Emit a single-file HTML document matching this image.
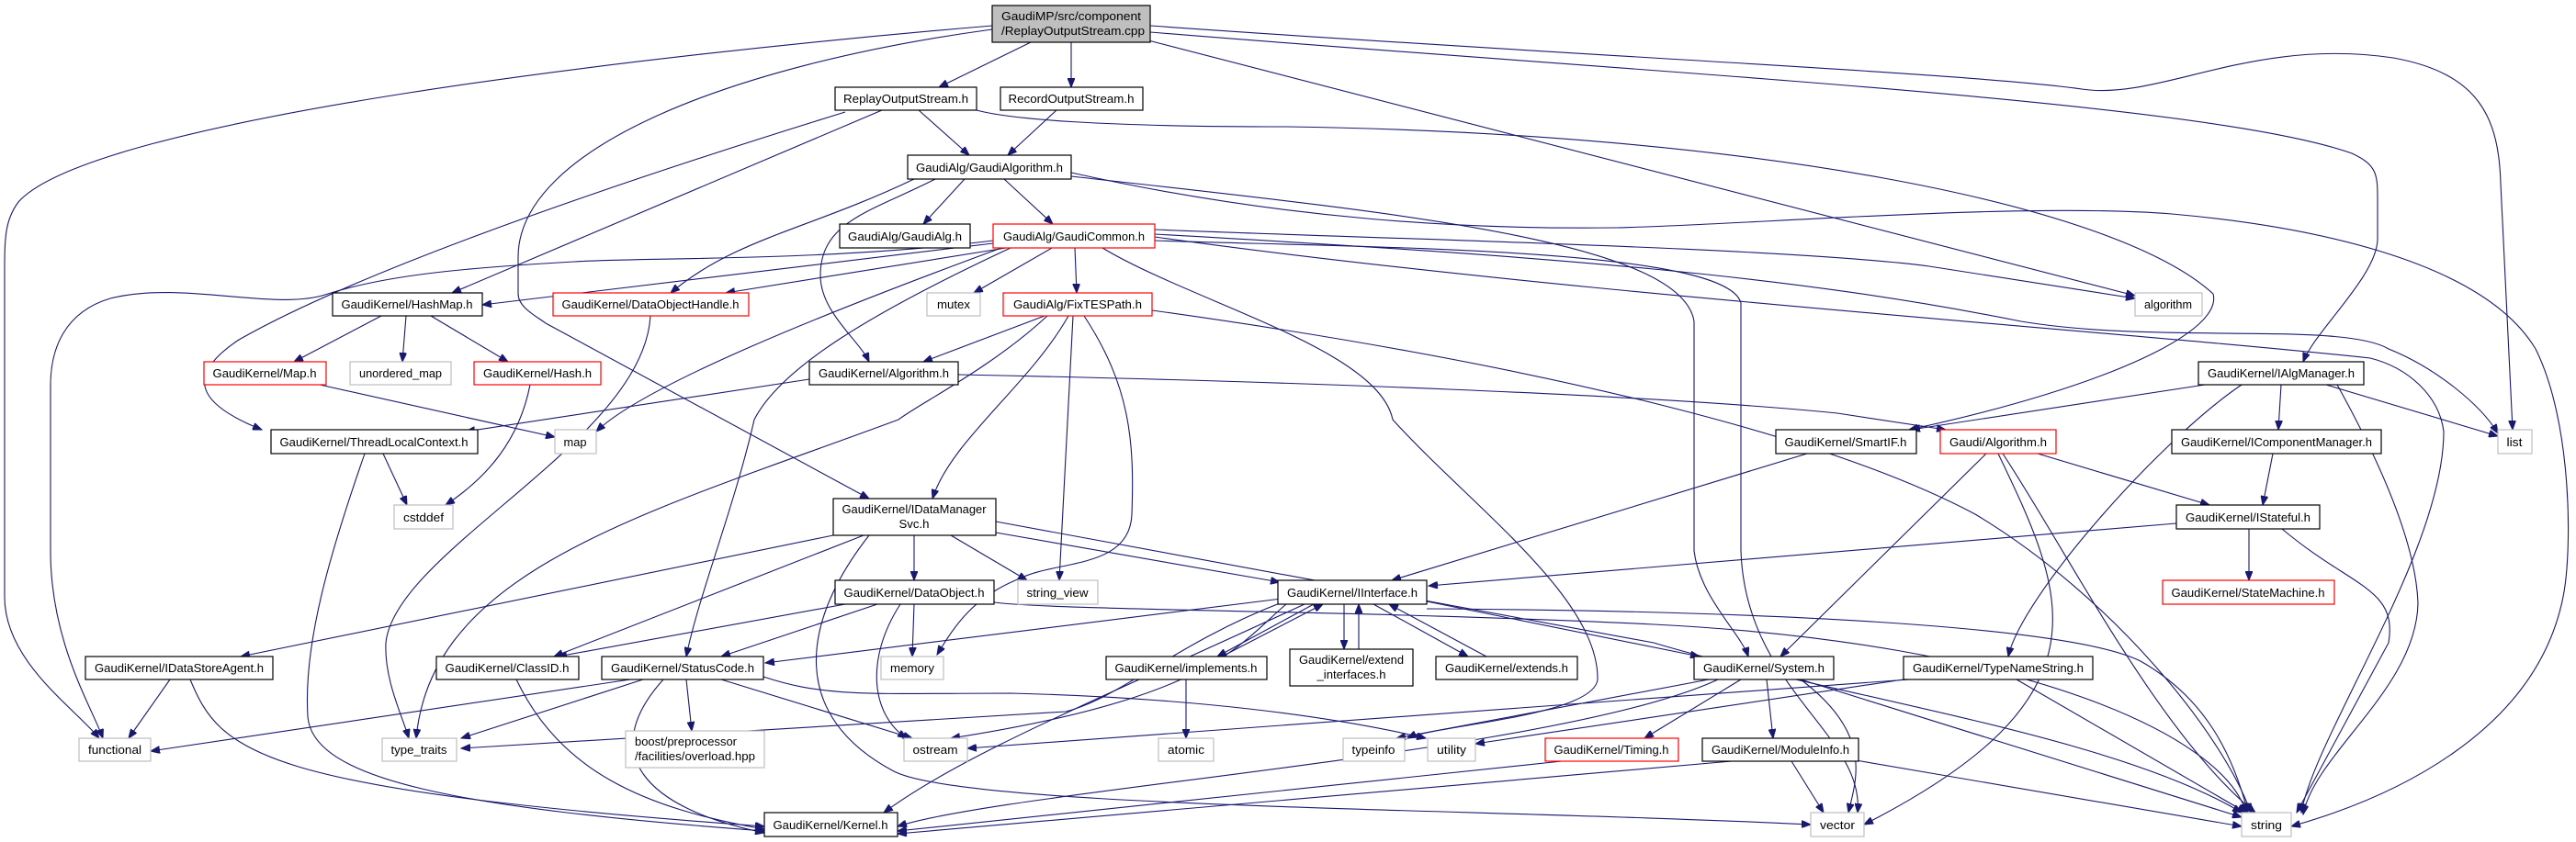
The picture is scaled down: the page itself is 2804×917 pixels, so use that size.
<!DOCTYPE html>
<html><head><meta charset="utf-8"><style>
html,body{margin:0;padding:0;background:#fff;}
svg{display:block;}
text{font-family:"Liberation Sans",sans-serif;font-size:13px;fill:#000;}
.e{fill:none;stroke:#191970;stroke-width:1.1;marker-end:url(#a);}
.n{fill:#fff;stroke:#000;stroke-width:1.2;}
.g{fill:#fff;stroke:#bfbfbf;stroke-width:1.2;}
.r{fill:#fff;stroke:#ff0000;stroke-width:1.2;}
</style></head><body>
<svg width="2804" height="917" viewBox="0 0 2804 917" xmlns="http://www.w3.org/2000/svg">
<defs><marker id="a" markerUnits="userSpaceOnUse" markerWidth="11" markerHeight="8" refX="10" refY="4" orient="auto"><path d="M0,0 L10,4 L0,8 z" fill="#191970" stroke="#191970"/></marker></defs>
<g>
<path class="e" d="M1122,46 L1022,95"/>
<path class="e" d="M1166,46 L1166,95"/>
<path class="e" d="M1080,28 C700,60 100,130 20,220 C5,240 5,260 5,300 L5,650 C5,720 80,770 108,804"/>
<path class="e" d="M1080,32 C800,70 564,160 564,280 L564,320 C564,335 585,345 594,352 L946,543"/>
<path class="e" d="M1250,44 L2324,322"/>
<path class="e" d="M1252,35 C1800,80 2400,110 2560,167 C2588,180 2588,190 2588,220 L2588,260 C2588,300 2520,360 2507,394"/>
<path class="e" d="M1252,28 C1700,60 2150,80 2266,97 C2350,110 2450,40 2605,63 C2700,80 2720,130 2722,200 L2735,468"/>
<path class="e" d="M1000,120 L1055,169"/>
<path class="e" d="M1150,120 L1097,169"/>
<path class="e" d="M960,120 L492,319"/>
<path class="e" d="M920,122 C700,190 400,290 260,370 C200,410 215,440 285,468"/>
<path class="e" d="M1063,120 C1100,130 1200,138 1400,138 C1900,145 2300,220 2409,320 C2420,360 2300,420 2078,468"/>
<path class="e" d="M1050,195 L1005,244"/>
<path class="e" d="M1093,195 L1146,244"/>
<path class="e" d="M995,195 C880,250 800,260 730,319"/>
<path class="e" d="M1018,195 C950,230 893,240 893,300 C893,340 935,370 946,394"/>
<path class="e" d="M1166,188 C1400,240 1600,250 1760,248 C1900,245 2200,220 2364,233 C2500,245 2700,280 2760,380 C2800,460 2800,600 2790,650 C2760,800 2600,870 2494,900"/>
<path class="e" d="M1166,192 C1500,230 1830,260 1844,350 L1844,600 C1850,650 1895,690 1903,715"/>
<path class="e" d="M1257,262 C1500,270 1880,270 1895,330 L1895,600 C1900,750 2030,800 2022,885"/>
<path class="e" d="M1081,265 L525,332"/>
<path class="e" d="M1095,270 L790,319"/>
<path class="e" d="M1145,270 L1060,319"/>
<path class="e" d="M1170,270 L1172,319"/>
<path class="e" d="M1081,262 C900,285 700,280 625,285 C500,292 420,300 357,320 C300,340 200,305 120,325 C70,340 55,380 55,420 L55,600 C55,700 100,770 112,804"/>
<path class="e" d="M1090,270 C900,340 700,420 649,470"/>
<path class="e" d="M1100,270 C950,340 850,400 821,457 C800,550 760,650 747,715"/>
<path class="e" d="M1257,250 C1500,260 1950,270 2100,290 C2200,305 2280,318 2324,325"/>
<path class="e" d="M1257,255 C1700,280 1950,300 2200,350 C2350,375 2550,350 2600,380 C2650,400 2700,440 2719,472"/>
<path class="e" d="M1257,258 C1700,320 2300,360 2580,390 C2620,400 2655,430 2660,470 C2660,600 2520,800 2505,885"/>
<path class="e" d="M1200,270 C1300,330 1500,380 1516,457 C1600,550 1740,650 1739,740 C1735,780 1560,790 1532,804"/>
<path class="e" d="M415,344 L320,394"/>
<path class="e" d="M442,344 L438,394"/>
<path class="e" d="M469,344 L553,394"/>
<path class="e" d="M348,419 L604,476"/>
<path class="e" d="M577,419 C565,480 530,520 485,550"/>
<path class="e" d="M881,413 L507,470"/>
<path class="e" d="M1043,408 C1400,415 1800,430 2000,450 L2118,468"/>
<path class="e" d="M708,344 C700,480 430,600 420,700 C418,740 438,780 445,804"/>
<path class="e" d="M1140,344 C1080,400 1000,440 978,457 C700,560 470,620 453,804"/>
<path class="e" d="M1137,344 L1005,394"/>
<path class="e" d="M1163,344 C1120,420 1035,480 1015,543"/>
<path class="e" d="M1168,344 L1153,632"/>
<path class="e" d="M1180,344 C1230,420 1235,480 1232,560 C1230,620 1150,610 1110,630 C1060,650 1040,680 1020,713"/>
<path class="e" d="M1254,338 C1700,400 2000,480 2150,560 C2300,650 2420,800 2450,885"/>
<path class="e" d="M417,494 L443,550"/>
<path class="e" d="M397,494 C360,600 330,700 335,780 C340,850 500,880 832,905"/>
<path class="e" d="M907,583 L262,715"/>
<path class="e" d="M940,583 L603,715"/>
<path class="e" d="M995,583 L995,632"/>
<path class="e" d="M1035,583 L1118,632"/>
<path class="e" d="M1084,580 L1393,634"/>
<path class="e" d="M1084,568 L1800,700 C2000,760 2300,800 2440,885"/>
<path class="e" d="M946,583 C870,680 860,780 973,840 C1050,880 1600,880 1971,898"/>
<path class="e" d="M920,658 L607,715"/>
<path class="e" d="M955,658 L785,715"/>
<path class="e" d="M995,658 L993,715"/>
<path class="e" d="M980,658 C940,720 950,780 987,804"/>
<path class="e" d="M1082,656 C1150,665 1500,665 1800,680 C2200,700 2420,800 2445,885"/>
<path class="e" d="M185,740 L140,804"/>
<path class="e" d="M207,740 C240,820 280,860 832,900"/>
<path class="e" d="M562,740 C610,840 700,880 832,903"/>
<path class="e" d="M686,740 L164,818"/>
<path class="e" d="M700,740 L502,804"/>
<path class="e" d="M747,740 L753,796"/>
<path class="e" d="M785,740 L993,804"/>
<path class="e" d="M722,740 C650,820 700,880 832,907"/>
<path class="e" d="M831,737 C900,760 950,755 1100,755 C1300,760 1450,780 1552,804"/>
<path class="e" d="M1395,652 L833,722"/>
<path class="e" d="M1400,658 C1350,700 1320,760 1035,804"/>
<path class="e" d="M1398,655 C1280,700 1220,760 1160,775 L502,815"/>
<path class="e" d="M1420,658 C1200,760 1050,820 962,885"/>
<path class="e" d="M1553,655 L1850,715"/>
<path class="e" d="M1553,663 C1900,665 2250,680 2330,720 C2400,760 2430,820 2447,885"/>
<path class="e" d="M1463,658 L1463,707"/>
<path class="e" d="M1479,707 L1479,658"/>
<path class="e" d="M1618,715 L1512,658"/>
<path class="e" d="M1495,658 L1598,715"/>
<path class="e" d="M1330,715 L1440,658"/>
<path class="e" d="M1430,658 L1325,715"/>
<path class="e" d="M1291,740 L1291,804"/>
<path class="e" d="M1967,494 L1515,632"/>
<path class="e" d="M2162,494 L1938,715"/>
<path class="e" d="M2218,494 L2405,550"/>
<path class="e" d="M2180,494 C2250,600 2350,800 2455,885"/>
<path class="e" d="M2175,494 C2250,650 2300,760 2029,898"/>
<path class="e" d="M2400,419 L2080,468"/>
<path class="e" d="M2483,419 L2480,468"/>
<path class="e" d="M2532,419 L2719,475"/>
<path class="e" d="M2544,419 C2600,520 2630,600 2632,657 C2630,750 2520,820 2507,887"/>
<path class="e" d="M2440,419 C2350,480 2200,650 2186,715"/>
<path class="e" d="M2474,494 L2463,550"/>
<path class="e" d="M2369,570 L1555,638"/>
<path class="e" d="M2448,576 L2448,632"/>
<path class="e" d="M2484,576 C2560,640 2610,640 2600,700 L2500,885"/>
<path class="e" d="M1860,740 L1520,804"/>
<path class="e" d="M1895,740 L1790,804"/>
<path class="e" d="M1923,740 L1930,804"/>
<path class="e" d="M1960,740 C2040,800 2020,850 2012,885"/>
<path class="e" d="M1960,740 L2440,890"/>
<path class="e" d="M1870,740 C1700,820 1100,860 977,900"/>
<path class="e" d="M2078,740 L1053,815"/>
<path class="e" d="M2072,740 L1606,810"/>
<path class="e" d="M2195,740 L2445,885"/>
<path class="e" d="M1700,829 L977,905"/>
<path class="e" d="M1885,829 L977,908"/>
<path class="e" d="M1950,829 L1985,885"/>
<path class="e" d="M2020,828 L2440,900"/>
</g>
<g>
<rect x="1080" y="6" width="172" height="40" fill="#bfbfbf" stroke="#000" stroke-width="1.2"/>
<text x="1090" y="22" textLength="152" lengthAdjust="spacingAndGlyphs">GaudiMP/src/component</text>
<text x="1090" y="38" textLength="156" lengthAdjust="spacingAndGlyphs">/ReplayOutputStream.cpp</text>

<rect class="n" x="909" y="95" width="154" height="25"/><text x="986" y="112" text-anchor="middle" textLength="136" lengthAdjust="spacingAndGlyphs">ReplayOutputStream.h</text>
<rect class="n" x="1089" y="95" width="155" height="25"/><text x="1166" y="112" text-anchor="middle" textLength="137" lengthAdjust="spacingAndGlyphs">RecordOutputStream.h</text>
<rect class="n" x="988" y="169" width="178" height="26"/><text x="1077" y="187" text-anchor="middle" textLength="160" lengthAdjust="spacingAndGlyphs">GaudiAlg/GaudiAlgorithm.h</text>
<rect class="n" x="914" y="244" width="142" height="26"/><text x="985" y="262" text-anchor="middle" textLength="124" lengthAdjust="spacingAndGlyphs">GaudiAlg/GaudiAlg.h</text>
<rect class="r" x="1081" y="244" width="176" height="26"/><text x="1169" y="262" text-anchor="middle" textLength="154" lengthAdjust="spacingAndGlyphs">GaudiAlg/GaudiCommon.h</text>
<rect class="n" x="362" y="319" width="163" height="25"/><text x="443" y="336" text-anchor="middle" textLength="143" lengthAdjust="spacingAndGlyphs">GaudiKernel/HashMap.h</text>
<rect class="r" x="602" y="319" width="213" height="25"/><text x="708" y="336" text-anchor="middle" textLength="193" lengthAdjust="spacingAndGlyphs">GaudiKernel/DataObjectHandle.h</text>
<rect class="g" x="1009" y="319" width="58" height="25"/><text x="1038" y="336" text-anchor="middle" textLength="36" lengthAdjust="spacingAndGlyphs">mutex</text>
<rect class="r" x="1092" y="319" width="162" height="25"/><text x="1173" y="336" text-anchor="middle" textLength="140" lengthAdjust="spacingAndGlyphs">GaudiAlg/FixTESPath.h</text>
<rect class="g" x="2324" y="319" width="73" height="25"/><text x="2360" y="336" text-anchor="middle" textLength="52" lengthAdjust="spacingAndGlyphs">algorithm</text>
<rect class="r" x="222" y="394" width="133" height="25"/><text x="288" y="411" text-anchor="middle" textLength="113" lengthAdjust="spacingAndGlyphs">GaudiKernel/Map.h</text>
<rect class="g" x="381" y="394" width="110" height="25"/><text x="436" y="411" text-anchor="middle" textLength="90" lengthAdjust="spacingAndGlyphs">unordered_map</text>
<rect class="r" x="516" y="394" width="138" height="25"/><text x="585" y="411" text-anchor="middle" textLength="118" lengthAdjust="spacingAndGlyphs">GaudiKernel/Hash.h</text>
<rect class="n" x="881" y="394" width="162" height="25"/><text x="962" y="411" text-anchor="middle" textLength="142" lengthAdjust="spacingAndGlyphs">GaudiKernel/Algorithm.h</text>
<rect class="n" x="2393" y="394" width="180" height="25"/><text x="2483" y="411" text-anchor="middle" textLength="160" lengthAdjust="spacingAndGlyphs">GaudiKernel/IAlgManager.h</text>
<rect class="n" x="295" y="468" width="225" height="26"/><text x="407" y="486" text-anchor="middle" textLength="205" lengthAdjust="spacingAndGlyphs">GaudiKernel/ThreadLocalContext.h</text>
<rect class="g" x="604" y="468" width="45" height="26"/><text x="626" y="486" text-anchor="middle" textLength="25" lengthAdjust="spacingAndGlyphs">map</text>
<rect class="n" x="1933" y="468" width="153" height="26"/><text x="2009" y="486" text-anchor="middle" textLength="133" lengthAdjust="spacingAndGlyphs">GaudiKernel/SmartIF.h</text>
<rect class="r" x="2112" y="468" width="126" height="26"/><text x="2175" y="486" text-anchor="middle" textLength="106" lengthAdjust="spacingAndGlyphs">Gaudi/Algorithm.h</text>
<rect class="n" x="2364" y="468" width="228" height="26"/><text x="2478" y="486" text-anchor="middle" textLength="208" lengthAdjust="spacingAndGlyphs">GaudiKernel/IComponentManager.h</text>
<rect class="g" x="2719" y="468" width="37" height="26"/><text x="2737" y="486" text-anchor="middle" textLength="17" lengthAdjust="spacingAndGlyphs">list</text>
<rect class="n" x="907" y="543" width="177" height="40"/><text x="995" y="559" text-anchor="middle" textLength="157" lengthAdjust="spacingAndGlyphs">GaudiKernel/IDataManager</text><text x="995" y="575" text-anchor="middle" textLength="33" lengthAdjust="spacingAndGlyphs">Svc.h</text>
<rect class="g" x="429" y="550" width="64" height="26"/><text x="461" y="568" text-anchor="middle" textLength="44" lengthAdjust="spacingAndGlyphs">cstddef</text>
<rect class="n" x="2369" y="550" width="156" height="26"/><text x="2447" y="568" text-anchor="middle" textLength="136" lengthAdjust="spacingAndGlyphs">GaudiKernel/IStateful.h</text>
<rect class="n" x="909" y="632" width="173" height="26"/><text x="995" y="650" text-anchor="middle" textLength="153" lengthAdjust="spacingAndGlyphs">GaudiKernel/DataObject.h</text>
<rect class="g" x="1108" y="632" width="87" height="26"/><text x="1151" y="650" text-anchor="middle" textLength="67" lengthAdjust="spacingAndGlyphs">string_view</text>
<rect class="n" x="1391" y="632" width="162" height="26"/><text x="1472" y="650" text-anchor="middle" textLength="142" lengthAdjust="spacingAndGlyphs">GaudiKernel/IInterface.h</text>
<rect class="r" x="2354" y="632" width="187" height="26"/><text x="2447" y="650" text-anchor="middle" textLength="167" lengthAdjust="spacingAndGlyphs">GaudiKernel/StateMachine.h</text>
<rect class="n" x="93" y="715" width="204" height="25"/><text x="195" y="732" text-anchor="middle" textLength="184" lengthAdjust="spacingAndGlyphs">GaudiKernel/IDataStoreAgent.h</text>
<rect class="n" x="475" y="715" width="155" height="25"/><text x="552" y="732" text-anchor="middle" textLength="135" lengthAdjust="spacingAndGlyphs">GaudiKernel/ClassID.h</text>
<rect class="n" x="655" y="715" width="176" height="25"/><text x="743" y="732" text-anchor="middle" textLength="156" lengthAdjust="spacingAndGlyphs">GaudiKernel/StatusCode.h</text>
<rect class="g" x="959" y="715" width="68" height="25"/><text x="993" y="732" text-anchor="middle" textLength="48" lengthAdjust="spacingAndGlyphs">memory</text>
<rect class="n" x="1204" y="715" width="175" height="25"/><text x="1291" y="732" text-anchor="middle" textLength="155" lengthAdjust="spacingAndGlyphs">GaudiKernel/implements.h</text>
<rect class="n" x="1404" y="707" width="134" height="40"/><text x="1471" y="723" text-anchor="middle" textLength="114" lengthAdjust="spacingAndGlyphs">GaudiKernel/extend</text><text x="1471" y="739" text-anchor="middle" textLength="75" lengthAdjust="spacingAndGlyphs">_interfaces.h</text>
<rect class="n" x="1563" y="715" width="154" height="25"/><text x="1640" y="732" text-anchor="middle" textLength="134" lengthAdjust="spacingAndGlyphs">GaudiKernel/extends.h</text>
<rect class="n" x="1844" y="715" width="152" height="25"/><text x="1920" y="732" text-anchor="middle" textLength="132" lengthAdjust="spacingAndGlyphs">GaudiKernel/System.h</text>
<rect class="n" x="2072" y="715" width="206" height="25"/><text x="2175" y="732" text-anchor="middle" textLength="186" lengthAdjust="spacingAndGlyphs">GaudiKernel/TypeNameString.h</text>
<rect class="g" x="86" y="804" width="78" height="25"/><text x="125" y="821" text-anchor="middle" textLength="58" lengthAdjust="spacingAndGlyphs">functional</text>
<rect class="g" x="416" y="804" width="81" height="25"/><text x="456" y="821" text-anchor="middle" textLength="61" lengthAdjust="spacingAndGlyphs">type_traits</text>
<rect class="g" x="681" y="796" width="151" height="40"/><text x="691" y="812" textLength="111" lengthAdjust="spacingAndGlyphs">boost/preprocessor</text><text x="691" y="828" textLength="131" lengthAdjust="spacingAndGlyphs">/facilities/overload.hpp</text>
<rect class="g" x="984" y="804" width="69" height="25"/><text x="1018" y="821" text-anchor="middle" textLength="49" lengthAdjust="spacingAndGlyphs">ostream</text>
<rect class="g" x="1261" y="804" width="60" height="25"/><text x="1291" y="821" text-anchor="middle" textLength="40" lengthAdjust="spacingAndGlyphs">atomic</text>
<rect class="g" x="1462" y="804" width="67" height="25"/><text x="1495" y="821" text-anchor="middle" textLength="47" lengthAdjust="spacingAndGlyphs">typeinfo</text>
<rect class="g" x="1554" y="804" width="52" height="25"/><text x="1580" y="821" text-anchor="middle" textLength="32" lengthAdjust="spacingAndGlyphs">utility</text>
<rect class="r" x="1682" y="804" width="145" height="25"/><text x="1754" y="821" text-anchor="middle" textLength="125" lengthAdjust="spacingAndGlyphs">GaudiKernel/Timing.h</text>
<rect class="n" x="1853" y="804" width="170" height="25"/><text x="1938" y="821" text-anchor="middle" textLength="150" lengthAdjust="spacingAndGlyphs">GaudiKernel/ModuleInfo.h</text>
<rect class="n" x="832" y="885" width="145" height="26"/><text x="904" y="903" text-anchor="middle" textLength="125" lengthAdjust="spacingAndGlyphs">GaudiKernel/Kernel.h</text>
<rect class="g" x="1971" y="885" width="58" height="26"/><text x="2000" y="903" text-anchor="middle" textLength="38" lengthAdjust="spacingAndGlyphs">vector</text>
<rect class="g" x="2440" y="885" width="54" height="26"/><text x="2467" y="903" text-anchor="middle" textLength="34" lengthAdjust="spacingAndGlyphs">string</text>
</g>
</svg>
</body></html>
